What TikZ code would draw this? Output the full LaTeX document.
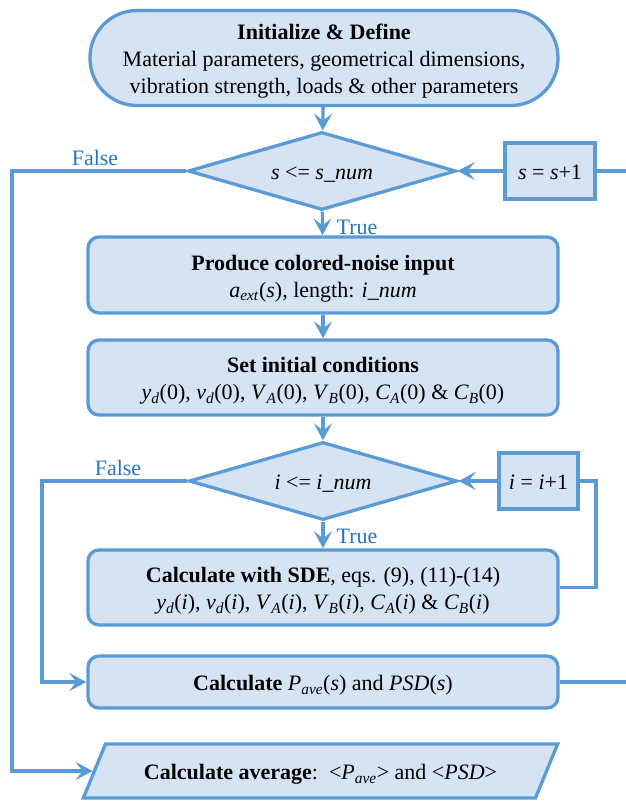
\documentclass[tikz,border=0pt]{standalone}
\usepackage{fontspec}
\setmainfont{Liberation Serif}
\usetikzlibrary{arrows.meta,shapes.geometric,calc}
\definecolor{boxfill}{RGB}{213,227,243}
\definecolor{boxline}{RGB}{91,155,213}
\definecolor{lblcol}{RGB}{40,116,190}
\newcommand\isub[2]{\textit{#1}\textsubscript{\textit{#2}}}
\newcommand\tx[1]{\raisebox{-3.5pt}[\height][\depth]{\begin{tabular}{@{}c@{}}#1\end{tabular}}}
\begin{document}
\begin{tikzpicture}[x=1pt,y=-1pt,
  font=\fontsize{22}{27}\selectfont,
  base/.style={draw=boxline, fill=boxfill, line width=3.3pt, align=center, inner sep=0pt},
  proc/.style={base, rectangle, rounded corners=11pt, minimum width=470pt},
  term/.style={base, rectangle, rounded corners=47pt, minimum width=468pt, minimum height=95pt},
  cond/.style={base, diamond, aspect=3.4, minimum width=268pt, minimum height=78pt},
  incbox/.style={base, rectangle},
  iobox/.style={base, trapezium, trapezium left angle=56, trapezium right angle=124, trapezium stretches=true, minimum width=475pt, minimum height=54pt},
  conn/.style={draw=boxline, line width=3.3pt},
  arr/.style={conn, -{Stealth[length=17pt,width=18pt,inset=7pt]}},
  lbl/.style={text=lblcol, inner sep=0pt}
]
\useasboundingbox (0,0) rectangle (625,801);

\node[term] (init) at (324,58) {\tx{\textbf{Initialize \& Define}\\Material parameters, geometrical dimensions,\\vibration strength, loads \& other parameters}};
\node[cond] (d1) at (322,171) {\tx{\textit{s} <= \textit{s\_num}}};
\node[incbox, minimum width=90pt, minimum height=56pt] (sbox) at (550,171) {\tx{\textit{s} = \textit{s}+1}};
\node[proc, minimum height=76pt] (produce) at (323,275) {\tx{\textbf{Produce colored-noise input}\\\isub{a}{ext}(\textit{s}), length: \textit{i\_num}}};
\node[proc, minimum height=75pt] (setinit) at (323,377.5) {\tx{\textbf{Set initial conditions}\\\isub{y}{d}(0), \isub{v}{d}(0), \isub{V}{A}(0), \isub{V}{B}(0), \isub{C}{A}(0) \& \isub{C}{B}(0)}};
\node[cond] (d2) at (323,481) {\tx{\textit{i} <= \textit{i\_num}}};
\node[incbox, minimum width=79pt, minimum height=56pt] (ibox) at (538.5,481) {\tx{\textit{i} = \textit{i}+1}};
\node[proc, minimum height=75pt] (sde) at (323,587.5) {\tx{\textbf{Calculate with SDE}, eqs. (9), (11)-(14)\\\isub{y}{d}(\textit{i}), \isub{v}{d}(\textit{i}), \isub{V}{A}(\textit{i}), \isub{V}{B}(\textit{i}), \isub{C}{A}(\textit{i}) \& \isub{C}{B}(\textit{i})}};
\node[proc, minimum height=52pt] (pave) at (323,682) {\tx{\textbf{Calculate} \isub{P}{ave}(\textit{s}) and \textit{PSD}(\textit{s})}};
\node[iobox] (avg) at (320.5,771) {\tx{\textbf{Calculate average}:\ \ <\isub{P}{ave}> and <\textit{PSD}>}};

\coordinate (lx1) at (12,0);
\coordinate (lx2) at (42,0);
\coordinate (ix) at (596,0);
\coordinate (rx) at (640,0);

\draw[arr] (init) -- (d1);
\draw[arr] (d1) -- (produce);
\draw[arr] (produce) -- (setinit);
\draw[arr] (setinit) -- (d2);
\draw[arr] (d2) -- (sde);
\draw[arr] (sbox.west) -- (d1.east);
\draw[arr] (ibox.west) -- (d2.east);
\draw[conn] (sde.east) -- (ix |- sde.east) |- (ibox.east);
\draw[conn] (pave.east) -- (rx |- pave.east) |- (sbox.east);
\draw[arr] (d2.west) -- (lx2 |- d2.west) |- (pave.west);
\draw[arr] (d1.west) -- (lx1 |- d1.west) |- (avg);

\node[lbl] (f1) at (95,158) {False};
\node[lbl] (t1) at (357,227) {True};
\node[lbl] (f2) at (118,468) {False};
\node[lbl] (t2) at (357,536) {True};
\end{tikzpicture}
\end{document}
